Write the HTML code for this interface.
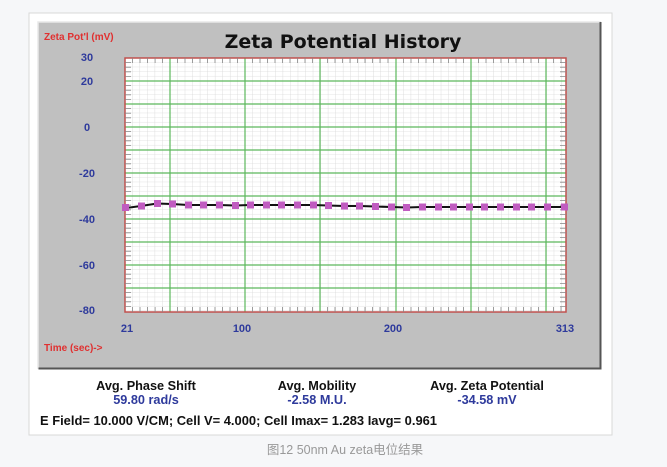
<!DOCTYPE html>
<html><head><meta charset="utf-8"><style>
body{margin:0;width:667px;height:467px;background:#f6f7f9;overflow:hidden;font-family:"Liberation Sans",sans-serif}
</style></head><body>
<svg width="667" height="467" xmlns="http://www.w3.org/2000/svg" style="position:absolute;left:0;top:0">
<defs>
<pattern id="mn" x="125" y="58" width="7.53" height="4.6" patternUnits="userSpaceOnUse">
<path d="M7.53 0V4.6M0 4.6H7.53" stroke="#d8d8d8" stroke-width="0.8" fill="none"/>
</pattern>
</defs>
<rect x="29" y="13" width="583" height="422" fill="#fff" stroke="#d8d8d8"/>
<rect x="38" y="22" width="563" height="347" fill="#c0c0c0"/>
<path d="M38 369V22H601" stroke="#e8e8e8" stroke-width="1.5" fill="none"/>
<path d="M38.5 368.5H600.5V22" stroke="#555" stroke-width="2" fill="none"/>
<rect x="125" y="58" width="441" height="254" fill="#fff"/>
<rect x="125" y="58" width="441" height="254" fill="url(#mn)"/>
<g stroke="#5cb85c" stroke-width="1.2">
<path d="M170 58V312M245 58V312M320 58V312M396 58V312M471 58V312M546 58V312"/>
<path d="M125 81H566M125 104H566M125 127H566M125 150H566M125 173H566M125 196H566M125 219H566M125 242H566M125 265H566M125 288H566"/>
</g>
<rect x="125" y="58" width="441" height="254" fill="none" stroke="#c0504d" stroke-width="1.5"/>
<g stroke="#888" stroke-width="0.8">
<path d="M125 62.6h6M125 67.2h6M125 71.8h6M125 76.4h6M125 85.6h6M125 90.2h6M125 94.8h6M125 99.4h6M125 108.6h6M125 113.2h6M125 117.8h6M125 122.4h6M125 131.6h6M125 136.2h6M125 140.8h6M125 145.4h6M125 154.6h6M125 159.2h6M125 163.8h6M125 168.4h6M125 177.6h6M125 182.2h6M125 186.8h6M125 191.4h6M125 200.6h6M125 205.2h6M125 209.8h6M125 214.4h6M125 223.6h6M125 228.2h6M125 232.8h6M125 237.4h6M125 246.6h6M125 251.2h6M125 255.8h6M125 260.4h6M125 269.6h6M125 274.2h6M125 278.8h6M125 283.4h6M125 292.6h6M125 297.2h6M125 301.8h6M125 306.4h6"/>
<path d="M566 62.6h-6M566 67.2h-6M566 71.8h-6M566 76.4h-6M566 85.6h-6M566 90.2h-6M566 94.8h-6M566 99.4h-6M566 108.6h-6M566 113.2h-6M566 117.8h-6M566 122.4h-6M566 131.6h-6M566 136.2h-6M566 140.8h-6M566 145.4h-6M566 154.6h-6M566 159.2h-6M566 163.8h-6M566 168.4h-6M566 177.6h-6M566 182.2h-6M566 186.8h-6M566 191.4h-6M566 200.6h-6M566 205.2h-6M566 209.8h-6M566 214.4h-6M566 223.6h-6M566 228.2h-6M566 232.8h-6M566 237.4h-6M566 246.6h-6M566 251.2h-6M566 255.8h-6M566 260.4h-6M566 269.6h-6M566 274.2h-6M566 278.8h-6M566 283.4h-6M566 292.6h-6M566 297.2h-6M566 301.8h-6M566 306.4h-6"/>
<path d="M132.5 58v5M140 58v5M147.6 58v5M155.1 58v5M162.6 58v5M177.5 58v5M185 58v5M192.5 58v5M200 58v5M207.5 58v5M215 58v5M222.5 58v5M230 58v5M237.5 58v5M252.5 58v5M260 58v5M267.5 58v5M275 58v5M282.5 58v5M290 58v5M297.5 58v5M305 58v5M312.5 58v5M327.5 58v5M335 58v5M342.5 58v5M350 58v5M357.5 58v5M365 58v5M372.5 58v5M380 58v5M388 58v5M403.5 58v5M411 58v5M418.5 58v5M426 58v5M433.5 58v5M441 58v5M448.5 58v5M456 58v5M463.5 58v5M478.5 58v5M486 58v5M493.5 58v5M501 58v5M508.5 58v5M516 58v5M523.5 58v5M531 58v5M538.5 58v5M553.5 58v5M561 58v5"/>
<path d="M132.5 312v-5M140 312v-5M147.6 312v-5M155.1 312v-5M162.6 312v-5M177.5 312v-5M185 312v-5M192.5 312v-5M200 312v-5M207.5 312v-5M215 312v-5M222.5 312v-5M230 312v-5M237.5 312v-5M252.5 312v-5M260 312v-5M267.5 312v-5M275 312v-5M282.5 312v-5M290 312v-5M297.5 312v-5M305 312v-5M312.5 312v-5M327.5 312v-5M335 312v-5M342.5 312v-5M350 312v-5M357.5 312v-5M365 312v-5M372.5 312v-5M380 312v-5M388 312v-5M403.5 312v-5M411 312v-5M418.5 312v-5M426 312v-5M433.5 312v-5M441 312v-5M448.5 312v-5M456 312v-5M463.5 312v-5M478.5 312v-5M486 312v-5M493.5 312v-5M501 312v-5M508.5 312v-5M516 312v-5M523.5 312v-5M531 312v-5M538.5 312v-5M553.5 312v-5M561 312v-5"/>
</g>
<path d="M126 208L141 206L157 203.5L172 204L188 205L204 205L219 205L235 205.5L250 205L266 205L282 205L297 205L313 205L328 205.5L344 206L360 206L375 206.5L391 207L407 207.5L422 207L438 207L454 207L469 207L485 207L500 207L516 207L532 207L548 207L565 207" fill="none" stroke="#111" stroke-width="2"/>
<g fill="#c05cc0">
<rect x="122" y="204" width="7" height="7"/><rect x="138" y="202.5" width="7" height="7"/><rect x="154" y="200" width="7" height="7"/><rect x="169" y="200.5" width="7" height="7"/><rect x="185" y="201.5" width="7" height="7"/><rect x="200" y="201.5" width="7" height="7"/><rect x="216" y="201.5" width="7" height="7"/><rect x="232" y="202" width="7" height="7"/><rect x="247" y="201.5" width="7" height="7"/><rect x="263" y="201.5" width="7" height="7"/><rect x="278" y="201.5" width="7" height="7"/><rect x="294" y="201.5" width="7" height="7"/><rect x="310" y="201.5" width="7" height="7"/><rect x="325" y="202" width="7" height="7"/><rect x="341" y="202.5" width="7" height="7"/><rect x="356" y="202.5" width="7" height="7"/><rect x="372" y="203" width="7" height="7"/><rect x="388" y="203.5" width="7" height="7"/><rect x="403" y="204" width="7" height="7"/><rect x="419" y="203.5" width="7" height="7"/><rect x="435" y="203.5" width="7" height="7"/><rect x="450" y="203.5" width="7" height="7"/><rect x="466" y="203.5" width="7" height="7"/><rect x="481" y="203.5" width="7" height="7"/><rect x="497" y="203.5" width="7" height="7"/><rect x="513" y="203.5" width="7" height="7"/><rect x="528" y="203.5" width="7" height="7"/><rect x="544" y="203.5" width="7" height="7"/><rect x="561" y="203.5" width="7" height="7"/>
</g>
<text x="343" y="48" text-anchor="middle" font-size="19" font-weight="bold" fill="#111" font-family="DejaVu Sans,sans-serif">Zeta Potential History</text>
<text x="44" y="40" font-size="10" font-weight="bold" fill="#e03030">Zeta Pot'l (mV)</text>
<text x="44" y="351" font-size="10" font-weight="bold" fill="#e03030">Time (sec)-&gt;</text>
<g font-size="11" font-weight="bold" fill="#2e3a9c" text-anchor="middle">
<text x="87" y="61">30</text><text x="87" y="85">20</text><text x="87" y="131">0</text><text x="87" y="177">-20</text><text x="87" y="223">-40</text><text x="87" y="269">-60</text><text x="87" y="314">-80</text>
<text x="127" y="332">21</text><text x="242" y="332">100</text><text x="393" y="332">200</text><text x="565" y="332">313</text>
</g>
<g font-size="12.7" font-weight="bold" text-anchor="middle">
<text x="146" y="390" fill="#111">Avg. Phase Shift</text><text x="146" y="404" fill="#2e3a9c">59.80 rad/s</text>
<text x="317" y="390" fill="#111">Avg. Mobility</text><text x="317" y="404" fill="#2e3a9c">-2.58 M.U.</text>
<text x="487" y="390" fill="#111">Avg. Zeta Potential</text><text x="487" y="404" fill="#2e3a9c">-34.58 mV</text>
</g>
<text x="40" y="425" font-size="12.7" font-weight="bold" fill="#111" textLength="397" lengthAdjust="spacingAndGlyphs">E Field= 10.000 V/CM; Cell V= 4.000; Cell Imax= 1.283 Iavg= 0.961</text>
<text x="345" y="454" text-anchor="middle" font-size="12.5" fill="#999" font-family="Liberation Sans,Noto Sans CJK SC,sans-serif">图12 50nm Au zeta电位结果</text>
</svg>
</body></html>
